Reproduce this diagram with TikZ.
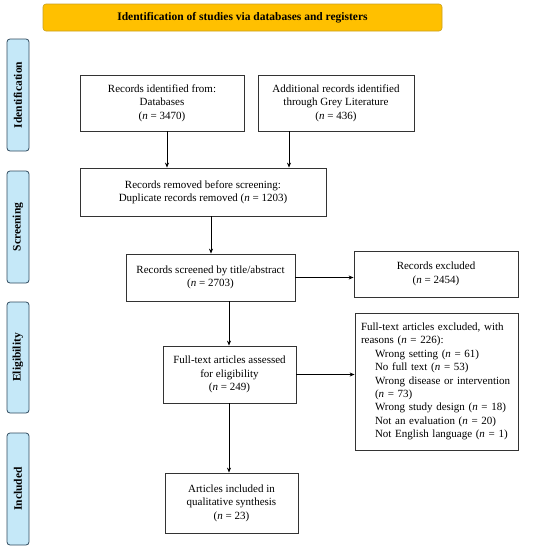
\documentclass[tikz,border=0pt]{standalone}
\usepackage{fontspec}
\setmainfont{Liberation Serif}
\usetikzlibrary{arrows.meta,positioning}
\definecolor{hdrfill}{HTML}{FFC000}
\definecolor{hdrdraw}{HTML}{C9A020}
\definecolor{sidefill}{HTML}{C5E8F8}
\definecolor{sidedraw}{HTML}{2F4A5E}
\tikzset{
  x=1pt,y=-1pt,
  txt/.style={font=\fontsize{11}{13.4}\selectfont},
  flowbox/.style={draw=black!80,line width=0.8pt,fill=white,txt,align=center,inner sep=2pt},
  sidebox/.style={draw=sidedraw,fill=sidefill,rounded corners=3pt,line width=0.8pt},
  sidetxt/.style={font=\fontsize{11.5}{12}\bfseries,rotate=90},
  conn/.style={-{Stealth[length=5pt,width=4pt]},line width=0.8pt},
}
\begin{document}
\begin{tikzpicture}
\useasboundingbox (0,0) rectangle (550,549);
% header
\draw[fill=hdrfill,draw=hdrdraw,rounded corners=3pt,line width=0.6pt] (43,4) rectangle (442,31);
\node[font=\fontsize{11.5}{12}\bfseries] (hdr) at (242.5,18) {Identification of studies via databases and registers};
% side labels
\draw[sidebox] (7,39) rectangle (29,151);
\node[sidetxt] (sid) at (18,95) {Identification};
\draw[sidebox] (7,171) rectangle (29,283);
\node[sidetxt] (ssc) at (18,227) {Screening};
\draw[sidebox] (7,302) rectangle (29,413);
\node[sidetxt] (sel) at (18,357.5) {Eligibility};
\draw[sidebox] (7,433) rectangle (29,545);
\node[sidetxt] (sin) at (18,489) {Included};
% boxes
\node[flowbox,minimum width=164pt,minimum height=56pt] (b1) at (162,103) {Records identified from:\\Databases\\(\textit{n} = 3470)};
\node[flowbox,minimum width=156pt,minimum height=56pt] (b2) at (336,103) {Additional records identified\\through Grey Literature\\(\textit{n} = 436)};
\node[flowbox,minimum width=246pt,minimum height=48pt] (b3) at (203,192) {Records removed before screening:\\Duplicate records removed (\textit{n} = 1203)};
\node[flowbox,minimum width=169pt,minimum height=47pt] (b4) at (210.5,277.5) {Records screened by title/abstract\\(\textit{n} = 2703)};
\node[flowbox,minimum width=164pt,minimum height=46pt] (b5) at (436,274) {Records excluded\\(\textit{n} = 2454)};
\node[flowbox,minimum width=133pt,minimum height=57pt] (b6) at (229.5,374.5) {Full-text articles assessed\\for eligibility\\(\textit{n} = 249)};
\node[flowbox,minimum width=163pt,minimum height=137pt,align=left,text width=151pt,inner sep=6pt] (b7) at (436.5,381.5) {Full-text articles excluded, with\\reasons (\textit{n} = 226):\\
\hspace*{14pt}Wrong setting (\textit{n} = 61)\\
\hspace*{14pt}No full text (\textit{n} = 53)\\
\hspace*{14pt}Wrong disease or intervention\\
\hspace*{14pt}(\textit{n} = 73)\\
\hspace*{14pt}Wrong study design (\textit{n} = 18)\\
\hspace*{14pt}Not an evaluation (\textit{n} = 20)\\
\hspace*{14pt}Not English language (\textit{n} = 1)};
\node[flowbox,minimum width=133pt,minimum height=60pt] (b8) at (231.5,503) {Articles included in\\qualitative synthesis\\(\textit{n} = 23)};
% connectors
\draw[conn] (b1.south -| 167,0) -- (b3.north -| 167,0);
\draw[conn] (b2.south -| 289,0) -- (b3.north -| 289,0);
\draw[conn] (b3.south -| 211,0) -- (b4.north -| 211,0);
\draw[conn] (b4.east) -- (b5.west |- b4.east);
\draw[conn] (b4.south -| 229,0) -- (b6.north -| 229,0);
\draw[conn] (b6.east) -- (b7.west |- b6.east);
\draw[conn] (b6.south -| 229,0) -- (b8.north -| 229,0);
\end{tikzpicture}
\end{document}
